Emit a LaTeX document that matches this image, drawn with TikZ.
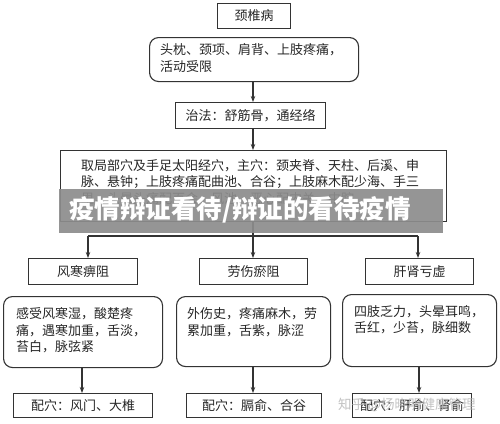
\documentclass[tikz,border=0pt]{standalone}
\usepackage{fontspec}
\setmainfont{Noto Sans CJK SC}
\newfontfamily\cjk{Noto Sans CJK SC}
\usetikzlibrary{arrows.meta}
\tikzset{
  ln/.style={draw=black!80, line width=1.1pt},
  sqbox/.style={ln, rectangle, inner sep=0pt, anchor=north west},
  rdbox/.style={ln, rectangle, rounded corners=9pt, inner sep=0pt, anchor=north west},
  txt/.style={inner sep=0pt, anchor=north west, align=left, font=\fontsize{13}{16.8}\selectfont, text=black!85},
  ctxt/.style={inner sep=0pt, font=\fontsize{13}{16.8}\selectfont, text=black!85},
  arr/.style={ln, -{Stealth[length=6pt,width=4.5pt]}},
}
\begin{document}
\begin{tikzpicture}[x=1pt,y=-1pt]
\useasboundingbox (0,0) rectangle (500,423);
% top
\node[sqbox, minimum width=73pt, minimum height=25pt] (t) at (217,3) {};
\node[ctxt] (tt) at (t.center) {颈椎病};
\node[rdbox, minimum width=209pt, minimum height=44pt] (s) at (149,37) {};
\node[txt] (st) at (160,43) {头枕、颈项、肩背、上肢疼痛，\\活动受限};
\node[sqbox, minimum width=150pt, minimum height=26pt] (z) at (175,102) {};
\node[ctxt] (zt) at (z.center) {治法：舒筋骨，通经络};
\node[sqbox, minimum width=386pt, minimum height=71pt] (b) at (60,150) {};
\node[txt] (bt) at (81,159) {取局部穴及手足太阳经穴，主穴：颈夹脊、天柱、后溪、申\\脉、悬钟；上肢疼痛配曲池、合谷；上肢麻木配少海、手三\\里，头晕头痛配百会、风池，恶心配内关、中脘};
\draw[arr] (s.south -| 253,0) -- (z.north -| 253,0);
\draw[arr] (z.south -| 253,0) -- (b.north -| 253,0);
% level 2
\node[sqbox, minimum width=109pt, minimum height=26pt] (l1) at (28,258) {};
\node[ctxt] (l1t) at (l1.center) {风寒痹阻};
\node[sqbox, minimum width=108pt, minimum height=26pt] (l2) at (199,258) {};
\node[ctxt] (l2t) at (l2.center) {劳伤瘀阻};
\node[sqbox, minimum width=108pt, minimum height=26pt] (l3) at (365,258) {};
\node[ctxt] (l3t) at (l3.center) {肝肾亏虚};
\coordinate (j) at (253,236);
\coordinate (jl) at (88,236);
\coordinate (jr) at (418,236);
\draw[ln] (b.south -| j) -- (j);
\draw[ln] (jl) -- (jr);
\draw[arr] (jl) -- (l1.north -| jl);
\draw[arr] (j) -- (l2.north -| j);
\draw[arr] (jr) -- (l3.north -| jr);
% rounded symptoms
\node[rdbox, minimum width=159pt, minimum height=71pt] (r1) at (3,296) {};
\node[txt] (r1t) at (16,307) {感受风寒湿，酸楚疼\\痛，遇寒加重，舌淡，\\苔白，脉弦紧};
\node[rdbox, minimum width=154pt, minimum height=70pt] (r2) at (176,296) {};
\node[txt] (r2t) at (187,307) {外伤史，疼痛麻木，劳\\累加重，舌紫，脉涩};
\node[rdbox, minimum width=154pt, minimum height=72pt] (r3) at (342,294) {};
\node[txt] (r3t) at (354,305) {四肢乏力，头晕耳鸣，\\舌红，少苔，脉细数};
% bottom
\node[sqbox, minimum width=139pt, minimum height=24pt] (p1) at (13,393) {};
\node[ctxt] (p1t) at (p1.center) {配穴：风门、大椎};
\node[sqbox, minimum width=135pt, minimum height=24pt] (p2) at (186,393) {};
\node[ctxt] (p2t) at (p2.center) {配穴：膈俞、合谷};
\node[sqbox, minimum width=119pt, minimum height=24pt] (p3) at (352,393) {};
\node[ctxt] (p3t) at (p3.center) {配穴：肝俞、肾俞};
\draw[arr] (r1.south -| 82,0) -- (p1.north -| 82,0);
\draw[arr] (r2.south -| 253,0) -- (p2.north -| 253,0);
\draw[arr] (r3.south -| 419,0) -- (p3.north -| 419,0);
% watermark
\node[inner sep=0pt, anchor=west, text=black!30, font=\fontsize{13.5}{14}\selectfont, opacity=0.8] (wm) at (338,405) {知乎 @杨晓明健康管理};
% banner
\node[sqbox, draw=none, fill=black!45, fill opacity=0.92, minimum width=384pt, minimum height=44pt] (ban) at (58,188) {};
\node[inner sep=0pt, anchor=west, text=white, font=\cjk\bfseries\fontsize{25.5}{27}\selectfont] (bant) at (69,210) {疫情辩证看待/辩证的看待疫情};
\end{tikzpicture}
\end{document}
